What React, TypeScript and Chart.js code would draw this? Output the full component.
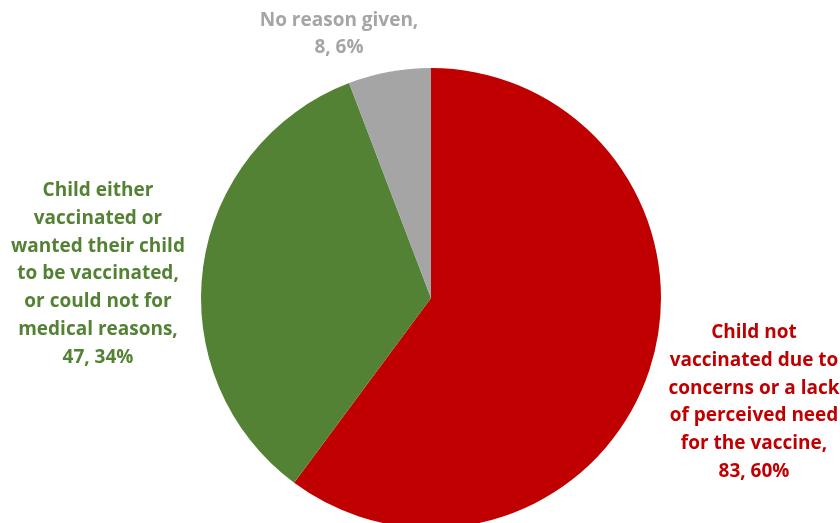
import React, { useEffect, useRef } from "react";
import { Chart, registerables } from "chart.js";

Chart.register(...registerables);

const categories = [
  ["Child not", "vaccinated due to", "concerns or a lack", "of perceived need", "for the vaccine,"],
  ["Child either", "vaccinated or", "wanted their child", "to be vaccinated,", "or could not for", "medical reasons,"],
  ["No reason given,"],
];
const counts = [83, 47, 8];
const percents = ["60%", "34%", "6%"];
const colors = ["#C00000", "#548235", "#A5A5A5"];
// label center offsets relative to pie center (layout only)
const labelOffsets = [
  [323, 104],
  [-333, -24],
  [-92, -264],
];

const FONT = "bold 19px 'Open Sans', Lato, sans-serif";
const LINE_H = 27.7;

const labelPlugin = {
  id: "sliceLabels",
  afterDraw(chart: any) {
    const ctx = chart.ctx;
    const meta = chart.getDatasetMeta(0);
    ctx.save();
    ctx.font = FONT;
    ctx.textAlign = "center";
    ctx.textBaseline = "middle";
    meta.data.forEach((arc: any, i: number) => {
      const lines = [...categories[i], `${counts[i]}, ${percents[i]}`];
      const cx = arc.x + labelOffsets[i][0];
      const cy = arc.y + labelOffsets[i][1];
      const top = cy - ((lines.length - 1) * LINE_H) / 2;
      ctx.fillStyle = colors[i];
      lines.forEach((l, k) => ctx.fillText(l, cx, top + k * LINE_H));
    });
    ctx.restore();
  },
};

export default function App() {
  const ref = useRef<HTMLCanvasElement>(null);
  useEffect(() => {
    const chart = new Chart(ref.current!, {
      type: "pie",
      data: {
        labels: categories.map((c) => c.join(" ")),
        datasets: [
          {
            data: counts,
            backgroundColor: colors,
            borderWidth: 0,
          },
        ],
      },
      options: {
        responsive: false,
        animation: false,
        layout: { padding: { top: 68, bottom: 68, left: 201, right: 179 } },
        plugins: { legend: { display: false }, tooltip: { enabled: false } },
      },
      plugins: [labelPlugin],
    });
    return () => chart.destroy();
  }, []);
  return (
    <div style={{ position: "fixed", left: 0, top: 0, width: 840, height: 523, overflow: "hidden", background: "#fff" }}>
      <canvas ref={ref} width={840} height={596} style={{ display: "block" }} />
    </div>
  );
}
